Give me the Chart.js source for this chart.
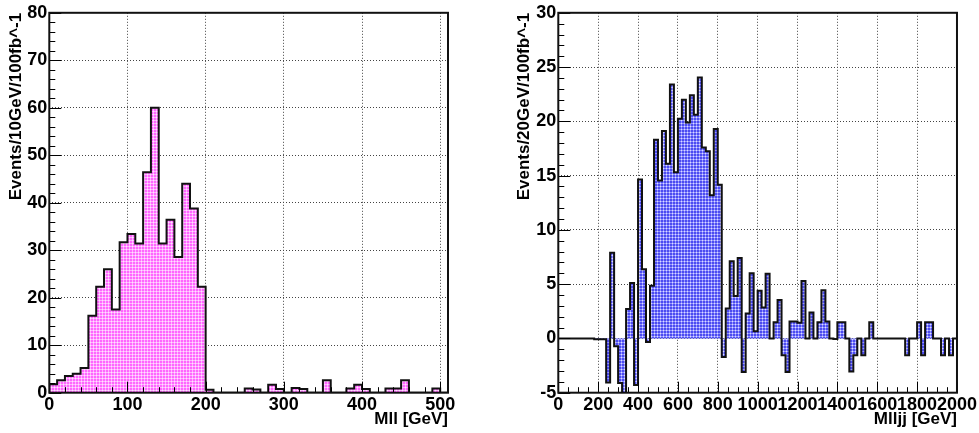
<!DOCTYPE html>
<html>
<head>
<meta charset="utf-8">
<script src="https://cdn.jsdelivr.net/npm/chart.js@4.4.1/dist/chart.umd.min.js"></script>
<style>
  body { margin: 0; background: #fff; }
  #wrap { position: relative; width: 979px; height: 433px; }
  canvas { position: absolute; top: 0; }
  #mll { left: 0; }
  #mlljj { left: 489px; }
</style>
</head>
<body>
<div id="wrap">
  <canvas id="mll" width="489" height="433"></canvas>
  <canvas id="mlljj" width="490" height="433"></canvas>
</div>
<script>
// Mll histogram: 10 GeV bins from 0 to 510
const mllBinWidth = 10;
const mllRange = [0, 510];
const mllEvents = [
  1.8, 2.6, 3.5, 4.0, 5.2, 16.2, 22.3, 26.0, 17.5, 31.7,
  33.4, 31.4, 46.4, 60.0, 31.4, 36.4, 28.6, 44.0, 38.8, 22.3,
  0.6, 0, 0, 0, 0, 0.9, 0.7, 0, 1.7, 0.8,
  0, 1.0, 0.8, 0, 0, 2.6, 0, 0, 0.9, 1.7,
  0.8, 0, 0, 0.9, 0.9, 2.6, 0, 0, 0, 0.9,
  0
];
const mllXTicks = [0, 100, 200, 300, 400, 500];
const mllYTicks = [0, 10, 20, 30, 40, 50, 60, 70, 80];

// Mlljj histogram: 20 GeV bins from 0 to 2000
const mlljjBinWidth = 20;
const mlljjRange = [0, 2000];
const mlljjEvents = [
  0, 0, 0, 0, 0, 0, 0, 0, 0, -0.07,
  -0.07, -0.07, -4.05, 7.9, -0.73, -4.1, -5.3, 2.7, 5.1, -4.3,
  14.65, 6.37, -0.34, 4.85, 18.3, 14.55, 19.1, 16.1, 23.4, 15.3,
  20.25, 22.0, 19.9, 22.4, 20.6, 24.05, 17.6, 17.25, 13.2, 19.3,
  14.15, -1.7, 2.75, 7.1, 3.9, 7.4, -3.1, 2.3, 6.0, 0.65,
  4.4, 2.85, 5.95, 0, 1.5, 3.55, -1.55, -3.1, 1.55, 1.55,
  1.45, 5.3, 0, 2.4, 0, 1.5, 4.45, 1.55, 0, -0.05,
  1.5, 1.5, 0, -3.05, -1.55, 0, -1.55, 0, 1.5, 0,
  0, 0, 0, 0, 0, 0, 0, -1.55, 0, 0,
  1.5, -1.55, 1.5, 1.5, 0, 0, -1.55, 0, -1.55, 0
];
const mlljjXTicks = [0, 200, 400, 600, 800, 1000, 1200, 1400, 1600, 1800, 2000];
const mlljjYTicks = [-5, 0, 5, 10, 15, 20, 25, 30];

const TITLE_FONT = { family: '"Liberation Sans", Arial, sans-serif', size: 17, weight: 'bold' };
const TICK_FONT = { family: '"Liberation Sans", Arial, sans-serif', size: 18, weight: 'bold' };

// small repeating fill like ROOT's dotted fill style
function hatch(base, light, dot) {
  const c = document.createElement('canvas');
  c.width = 3; c.height = 3;
  const g = c.getContext('2d');
  g.fillStyle = base;
  g.fillRect(0, 0, 3, 3);
  g.fillStyle = light;
  g.fillRect(0, 0, 3, 1);
  g.fillRect(0, 0, 1, 3);
  g.fillStyle = dot;
  g.fillRect(0, 0, 1, 1);
  return g.createPattern(c, 'repeat');
}

// turn bin contents into step points (left edge of each bin + closing edge)
function stepPoints(events, width, range) {
  const pts = [{ x: range[0], y: 0 }];
  events.forEach((v, i) => pts.push({ x: range[0] + i * width, y: v }));
  pts.push({ x: range[1], y: events[events.length - 1] });
  pts.push({ x: range[1], y: 0 });
  return pts;
}

// frame + inward ROOT style tick marks
const rootAxes = {
  id: 'rootAxes',
  afterDraw(chart, args, o) {
    const { ctx, chartArea: a, scales: { x, y } } = chart;
    ctx.save();
    ctx.strokeStyle = '#000';
    ctx.lineWidth = 1;
    ctx.beginPath();
    for (let i = 0; i * o.xMinor <= x.max - x.min + 1e-9; i++) {
      const v = x.min + i * o.xMinor;
      const px = Math.round(x.getPixelForValue(v)) + 0.5;
      const len = (v % o.xMajor === 0) ? 11 : 5.5;
      ctx.moveTo(px, a.bottom);
      ctx.lineTo(px, a.bottom - len);
    }
    for (let i = 0; i * o.yMinor <= y.max - y.min + 1e-9; i++) {
      const v = y.min + i * o.yMinor;
      const py = Math.round(y.getPixelForValue(v)) + 0.5;
      const len = (Math.abs(v % o.yMajor) < 1e-9) ? 12 : 6;
      ctx.moveTo(a.left, py);
      ctx.lineTo(a.left + len, py);
    }
    ctx.stroke();
    ctx.lineWidth = 2;
    ctx.strokeStyle = '#111';
    ctx.strokeRect(a.left, a.top, a.right - a.left, a.bottom - a.top);
    ctx.restore();
  }
};

function makeHist(id, cfg) {
  const ctx = document.getElementById(id).getContext('2d');
  return new Chart(ctx, {
    type: 'line',
    data: {
      datasets: [{
        data: stepPoints(cfg.events, cfg.binWidth, cfg.range),
        stepped: true,
        borderColor: '#111',
        borderWidth: 2,
        backgroundColor: cfg.fill,
        fill: 'origin',
        pointRadius: 0
      }]
    },
    options: {
      responsive: false,
      animation: false,
      devicePixelRatio: 1,
      layout: { padding: { left: 0, right: cfg.padRight, top: 10, bottom: 0 } },
      plugins: {
        legend: { display: false },
        tooltip: { enabled: false },
        rootAxes: cfg.ticks
      },
      scales: {
        x: {
          type: 'linear',
          min: cfg.range[0],
          max: cfg.range[1],
          afterBuildTicks: s => { s.ticks = cfg.xTicks.map(v => ({ value: v })); },
          afterFit: s => { s.height = 40.3; },
          grid: { color: '#444', lineWidth: 1, drawTicks: false },
          border: { display: false, dash: [1, 2] },
          ticks: { font: TICK_FONT, color: '#000', padding: 2, autoSkip: false, maxRotation: 0, minRotation: 0,
                   callback: v => String(v) },
          title: { display: true, text: cfg.xTitle, align: 'end', font: TITLE_FONT, color: '#000', padding: { top: 0, bottom: 3 } }
        },
        y: {
          min: cfg.yRange[0],
          max: cfg.yRange[1],
          afterBuildTicks: s => { s.ticks = cfg.yTicks.map(v => ({ value: v })); },
          afterFit: s => { s.width = cfg.yWidth; },
          grid: { color: '#444', lineWidth: 1, drawTicks: false },
          border: { display: false, dash: [1, 2] },
          ticks: { font: TICK_FONT, color: '#000', padding: 2, callback: v => String(v) },
          title: { display: true, text: cfg.yTitle, align: 'end', font: TITLE_FONT, color: '#000', padding: { top: cfg.yTitlePad, bottom: 0 } }
        }
      }
    },
    plugins: [rootAxes]
  });
}

makeHist('mll', {
  events: mllEvents, binWidth: mllBinWidth, range: mllRange,
  xTicks: mllXTicks, yTicks: mllYTicks, yRange: [0, 80],
  xTitle: 'Mll [GeV]', yTitle: 'Events/10GeV/100fb^-1',
  fill: hatch('#ff66ff', '#ffb4ff', '#ffe0ff'),
  padRight: 41, yWidth: 49.3, yTitlePad: 6,
  ticks: { xMinor: 20, xMajor: 100, yMinor: 2, yMajor: 10 }
});

makeHist('mlljj', {
  events: mlljjEvents, binWidth: mlljjBinWidth, range: mlljjRange,
  xTicks: mlljjXTicks, yTicks: mlljjYTicks, yRange: [-5, 30],
  xTitle: 'Mlljj [GeV]', yTitle: 'Events/20GeV/100fb^-1',
  fill: hatch('#4c4cf0', '#9494ff', '#dcdcff'),
  padRight: 21, yWidth: 69.3, yTitlePad: 25,
  ticks: { xMinor: 50, xMajor: 200, yMinor: 1, yMajor: 5 }
});
</script>
</body>
</html>
